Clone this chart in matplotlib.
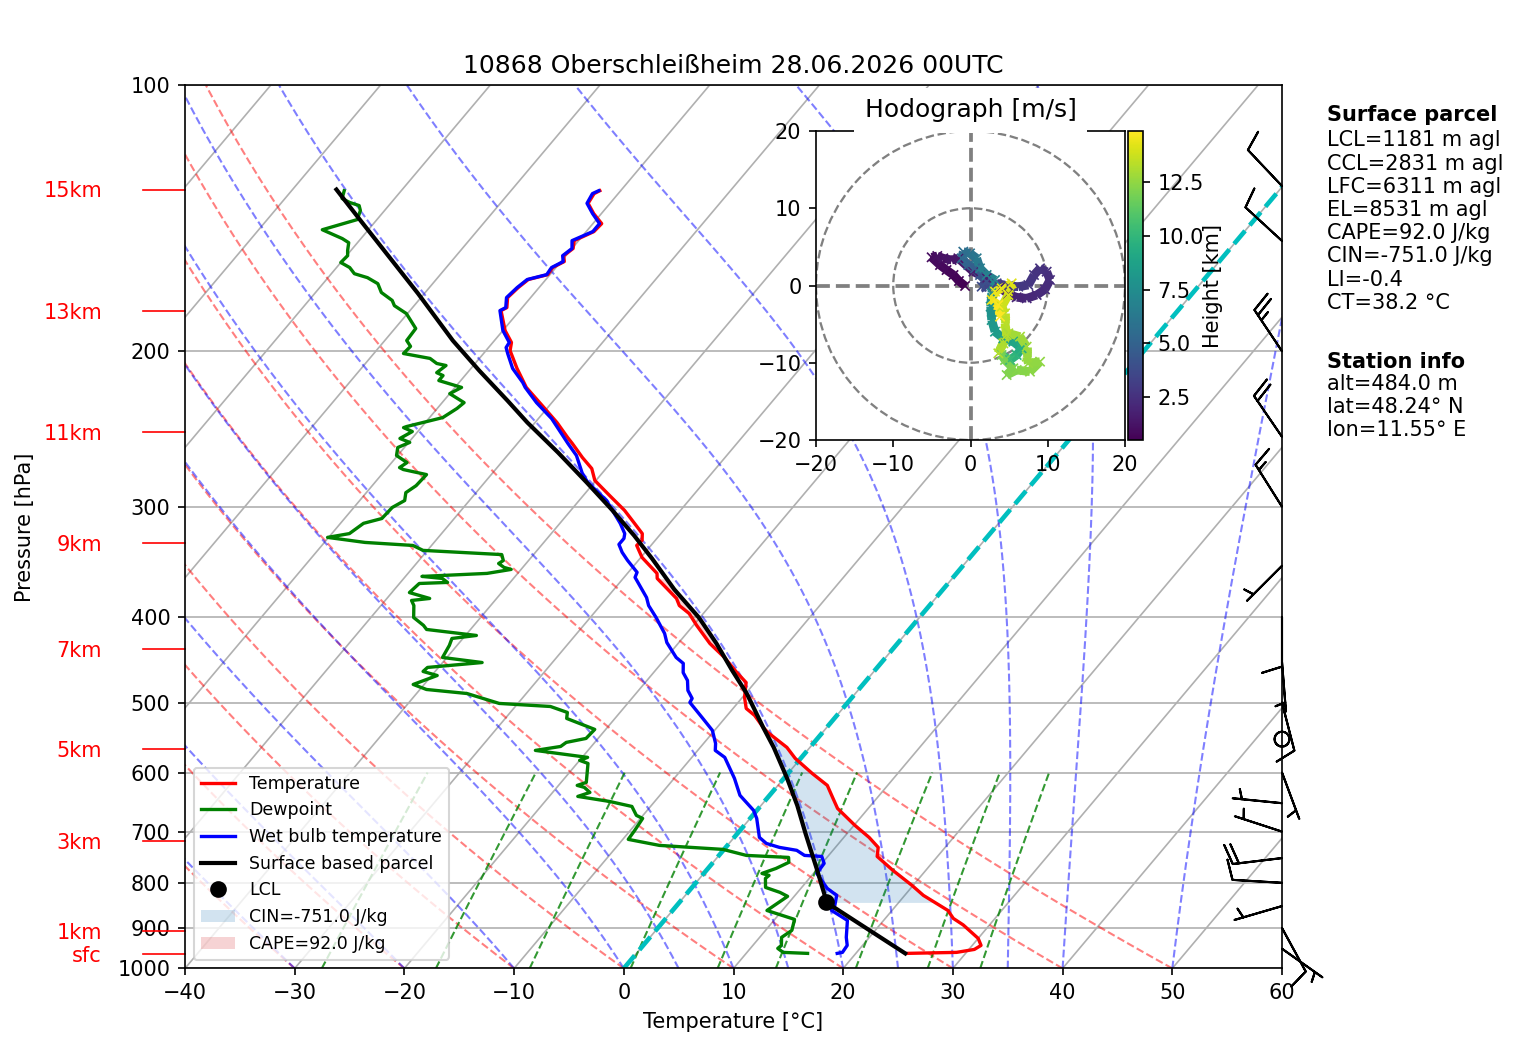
import numpy as np
import matplotlib
matplotlib.use("Agg")
import matplotlib.pyplot as plt
from matplotlib.collections import LineCollection
from matplotlib.patches import Circle

# sounding, top to bottom
temp_p = [131.6, 132.6, 136.0, 139.7, 143.4, 146.4, 149.9, 153.0, 155.9, 158.3, 160.8, 163.8, 165.9, 169.4, 173.9,
          178.5, 179.9, 189.5, 195.5, 199.7, 209.2, 219.8, 232.2, 240.9, 250.4, 254.4, 263.9, 271.6, 280.2, 291.4,
          302.9, 313.3, 321.8, 327.5, 331.9, 342.4, 357.0, 361.7, 381.1, 388.2, 396.3, 408.8, 428.6, 444.5, 462.4,
          474.5, 493.3, 507.7, 517.0, 533.4, 540.4, 562.0, 578.3, 601.4, 620.5, 640.2, 658.9, 688.8, 710.6, 729.4,
          746.8, 774.4, 805.4, 826.6, 859.8, 877.8, 892.8, 924.7, 941.8, 951.7, 959.1, 961.6]
temp_t = [-61.9, -62.2, -62.0, -60.7, -59.2, -59.3, -60.4, -59.9, -60.2, -59.7, -60.3, -60.2, -61.6, -61.9, -62.1,
          -61.4, -61.7, -59.8, -58.3, -57.8, -55.8, -53.5, -50.2, -48.0, -45.9, -45.0, -43.0, -41.3, -40.1, -37.6,
          -35.1, -33.2, -31.7, -31.2, -31.3, -29.9, -27.3, -26.9, -23.6, -22.8, -21.3, -19.7, -17.1, -14.7, -12.4,
          -10.8, -9.8, -8.8, -7.5, -5.8, -5.0, -2.1, -0.5, 2.2, 4.5, 5.9, 7.2, 10.1, 12.3, 13.9,
          14.5, 17.0, 19.9, 21.7, 25.1, 26.2, 27.6, 30.0, 30.8, 30.5, 29.1, 24.6]

dew_p = [131.6, 134.3, 135.7, 136.8, 138.6, 141.9, 145.7, 149.1, 150.7, 153.8, 155.9, 158.7, 160.8, 163.4, 165.1,
         167.7, 171.6, 175.2, 177.6, 181.3, 188.5, 194.5, 197.5, 201.2, 203.8, 206.5, 207.6, 211.5, 213.1, 215.9,
         219.8, 223.4, 228.7, 232.2, 237.8, 243.4, 244.1, 246.6, 251.1, 253.7, 257.1, 262.5, 267.4, 270.9, 272.3,
         275.9, 284.0, 289.2, 295.2, 300.6, 309.4, 313.3, 321.8, 325.0, 329.3, 331.9, 336.2, 339.9, 345.2, 347.9,
         351.5, 353.3, 357.0, 359.8, 361.7, 365.5, 366.5, 375.3, 381.1, 383.1, 388.2, 400.5, 408.8, 413.2, 419.7,
         423.0, 430.8, 444.5, 450.4, 456.2, 461.0, 465.9, 476.9, 483.2, 488.3, 501.1, 505.1, 513.0, 521.1, 536.2,
         549.0, 554.7, 560.6, 566.4, 576.8, 581.3, 586.0, 615.7, 620.5, 623.7, 632.0, 638.6, 647.1, 655.5, 671.0,
         676.3, 697.9, 714.3, 725.6, 733.2, 744.8, 748.7, 758.4, 770.5, 780.6, 784.6, 790.8, 809.6, 820.2, 828.7,
         859.8, 880.0, 905.6, 922.3, 941.8, 949.2, 959.1, 961.6]
dew_t = [-85.2, -84.8, -83.8, -82.7, -82.2, -81.8, -84.2, -81.7, -80.8, -80.3, -79.9, -80.0, -78.8, -77.9, -76.4,
         -75.0, -74.0, -72.4, -71.8, -70.1, -68.1, -68.0, -67.2, -67.3, -64.5, -63.5, -62.5, -62.8, -62.0, -62.0,
         -59.4, -60.0, -58.0, -58.2, -58.8, -61.4, -61.6, -60.5, -61.1, -59.9, -60.6, -60.1, -58.6, -58.9, -58.4,
         -55.9, -56.0, -56.4, -55.9, -56.5, -56.6, -57.9, -58.4, -60.1, -56.3, -51.7, -50.4, -42.9, -42.3, -42.5,
         -41.7, -40.9, -42.8, -48.5, -46.5, -45.7, -48.2, -48.4, -46.1, -47.6, -47.0, -46.1, -44.6, -44.0, -39.0,
         -41.0, -40.7, -40.4, -36.4, -41.0, -41.1, -39.5, -41.0, -39.4, -35.4, -31.7, -26.8, -24.8, -24.4, -21.0,
         -21.1, -22.6, -22.8, -24.8, -19.5, -20.0, -19.0, -17.7, -18.3, -17.5, -16.6, -17.4, -14.1, -11.7, -10.6,
         -9.8, -9.6, -9.5, -6.2, -0.1, 2.5, 6.5, 6.9, 6.2, 5.3, 6.1, 6.0, 6.7, 8.4, 9.4,
         8.6, 11.8, 12.4, 12.0, 12.6, 12.5, 13.3, 15.6]

wet_p = [131.6, 132.6, 136.0, 139.7, 143.4, 146.4, 149.9, 153.0, 155.9, 158.3, 160.8, 163.8, 165.9, 169.4, 173.9,
         178.5, 179.9, 189.5, 195.5, 198.1, 201.2, 209.2, 217.0, 219.8, 228.7, 238.4, 249.1, 254.4, 262.5, 275.0,
         281.6, 295.2, 313.3, 321.8, 325.9, 331.0, 337.9, 345.0, 356.0, 360.7, 380.2, 388.2, 400.5, 417.5, 427.5,
         444.5, 451.4, 462.4, 472.0, 484.4, 494.6, 499.8, 521.0, 537.6, 556.3, 566.4, 576.8, 609.3, 636.8, 662.3,
         676.3, 710.6, 721.9, 729.4, 735.0, 744.8, 746.8, 760.5, 780.6, 811.7, 826.6, 848.6, 859.8, 882.4, 922.3,
         941.8, 959.1, 961.6]
wet_t = [-62.0, -62.35, -62.1, -60.8, -59.4, -59.4, -60.6, -60.0, -60.3, -59.8, -60.4, -60.3, -61.7, -62.0, -62.2,
         -61.5, -61.8, -60.0, -58.5, -58.4, -57.8, -56.2, -54.2, -53.6, -51.4, -48.8, -46.5, -45.4, -43.7, -41.8,
         -40.6, -37.5, -34.5, -33.3, -33.0, -33.0, -32.1, -31.0, -29.2, -29.0, -26.4, -25.6, -24.0, -22.0, -21.1,
         -19.1, -18.0, -17.3, -16.3, -15.5, -14.5, -14.4, -12.0, -10.2, -8.9, -8.4, -7.0, -4.5, -2.7, -0.3,
         0.6, 2.3, 3.4, 4.9, 6.7, 7.8, 9.45, 10.2, 10.3, 12.4, 13.8, 14.4, 14.5, 16.7, 17.9,
         18.6, 18.7, 18.3]

parcel_p = [131.2, 142.3, 155.9, 172.0, 194.5, 210.3, 227.5, 240.9, 260.5, 281.6, 302.9, 323.4, 343.4, 372.2, 400.5,
            428.6, 459.8, 488.3, 533.4, 562.0, 609.3, 653.8, 703.3, 770.5, 822.3, 841.9, 961.6]
parcel_t = [-86.0, -81.4, -76.2, -70.6, -63.8, -59.1, -54.2, -50.7, -45.6, -40.7, -36.2, -32.3, -28.9, -24.5, -20.1,
            -16.5, -13.0, -9.9, -5.8, -3.3, 0.3, 3.3, 6.2, 9.9, 12.5, 13.4, 24.5]
lcl_p = 841.9
lcl_t = 13.4

# wind barbs, knots
barb_p = [130, 150, 200, 250, 300, 350, 400, 450, 500, 550, 600, 650, 700, 750, 800, 850, 900, 950]
barb_u = [6.9, 7.4, 13.9, 11.3, 8.0, 3.5, 0.0, -0.4, -2.5, 0.0, -1.75, 5.0, 4.75, 19.9, 10.0, 4.8, -4.8, -4.1]
barb_v = [-7.3, -6.8, -20.8, -16.5, -12.7, 3.5, 10.0, 5.0, 9.7, 0.0, 4.7, -0.5, -1.55, 2.4, -0.6, 1.4, 8.8, 2.9]

# height marks on the left
km_labels = ["15km", "13km", "11km", "9km", "7km", "5km", "3km", "1km", "sfc"]
km_p = [131.2, 180.3, 247.0, 330.0, 435.0, 565.0, 718.0, 908.0, 964.0]

# hodograph
hodo_u = [-0.7, -1.5, -2.2, -3.1, -3.95, -5.03, -4.3, -3.52, -2.44, -1.57,
          0.37, 2.09, 3.82, 4.9, 5.98, 7.27, 8.57, 9.64, 10.29, 9.86,
          9.0, 8.22, 7.49, 6.19, 4.9, 3.39,
          2.09, 1.45, 2.09, 1.23, 0.58, -0.28, -1.14, -0.93, -0.06, 0.8, 1.23, 2.09, 3.17, 2.74, 2.61, 2.74, 3.17,
          4.25, 5.54, 6.62, 5.98, 5.11,
          4.03, 4.47, 5.54, 4.68, 5.98, 7.7, 9.0, 7.49, 7.27, 7.27, 6.41, 4.9, 4.25, 3.6,
          4.68, 4.47, 4.47, 4.03, 4.9, 5.33, 4.03, 3.17, 2.74, 3.6, 3.82]
hodo_v = [-0.06, 0.58, 1.36, 2.0, 2.65, 3.65, 3.82, 3.52, 3.3, 3.52,
          1.79, 0.93, -0.24, -1.14, -1.53, -1.66, -1.23, -0.5, 0.71, 1.79,
          2.22, 1.36, 0.06, -0.15, -0.06, 0.28,
          -0.24, -0.15, 0.5, 1.36, 2.22, 2.65, 3.52, 4.38, 4.16, 3.52, 2.22, 1.36, 0.71, -1.01, -2.74, -4.47, -5.98,
          -6.84, -7.27, -8.13, -9.0, -9.64,
          -9.0, -9.64, -10.72, -11.59, -10.94, -11.15, -9.86, -10.08, -9.21, -7.92, -6.62, -6.19, -7.49, -8.78,
          -6.41, -4.9, -3.6, -2.74, -1.23, 0.28, -0.37, -0.8, -1.88, -2.52, -4.03]
hodo_z = [0.5, 0.6, 0.7, 0.8, 0.9, 1.0, 1.1, 1.2, 1.3, 1.4,
          1.6, 1.7, 1.8, 1.9, 2.0, 2.1, 2.2, 2.3, 2.4, 2.5,
          2.6, 2.7, 2.8, 2.9, 3.0, 3.2,
          3.5, 3.8, 4.1, 4.4, 4.8, 5.1, 5.4, 5.7, 6.0, 6.3, 6.6, 6.9, 7.2, 7.5, 7.8, 8.1, 8.4,
          8.7, 9.0, 9.4, 9.8, 10.2,
          11.9, 12.0, 12.1, 12.2, 12.3, 12.4, 12.5, 12.6, 12.7, 12.8, 12.9, 13.0, 13.1, 13.2,
          13.3, 13.4, 13.6, 13.8, 14.0, 14.2, 14.3, 14.5, 14.6, 14.8, 14.9]

parcel_text = ["LCL=1181 m agl", "CCL=2831 m agl", "LFC=6311 m agl", "EL=8531 m agl", "CAPE=92.0 J/kg",
               "CIN=-751.0 J/kg", "LI=-0.4", "CT=38.2 °C"]
station_text = ["alt=484.0 m", "lat=48.24° N", "lon=11.55° E"]

W, H = 1517, 1054
SKEW = 67.8  # degC per decade of pressure


def skew_x(t, p):
    return np.asarray(t, dtype=float) + SKEW * np.log10(1000.0 / np.asarray(p, dtype=float))


def px_rect(x0, y0, x1, y1):
    return [x0 / W, 1 - y1 / H, (x1 - x0) / W, (y1 - y0) / H]


def moist_adiabat(t0, p):
    # simple stepping of the saturated lapse rate
    t = np.zeros_like(p)
    t[0] = t0 + 273.15
    for i in range(1, len(p)):
        tc = t[i - 1] - 273.15
        es = 6.112 * np.exp(17.67 * tc / (tc + 243.5))
        rs = 0.622 * es / (p[i - 1] - es)
        dt = (287.0 * t[i - 1] + 2.5e6 * rs) / (1005.0 + 2.5e6 ** 2 * rs * 0.622 / (287.0 * t[i - 1] ** 2))
        t[i] = t[i - 1] + dt * np.log(p[i] / p[i - 1])
    return t - 273.15


fig = plt.figure(figsize=(W / 150, H / 150), dpi=150)
ax = fig.add_axes(px_rect(185, 85.4, 1282, 968.4))
ax.set_yscale("log")

# background lines
p_all = np.geomspace(1000, 100, 200)
for t0 in np.arange(-130, 70, 10):
    ax.plot(skew_x([t0, t0], [1000, 100]), [1000, 100], color="#b0b0b0", lw=0.8, zorder=1)
for p0 in range(100, 1100, 100):
    ax.axhline(p0, color="#b0b0b0", lw=0.8, zorder=1)
for t0 in np.arange(-40, 60, 10):
    ax.plot(skew_x((t0 + 273.15) * (p_all / 1000) ** 0.286 - 273.15, p_all), p_all,
            color="r", ls="--", lw=1, alpha=0.5, zorder=1)
for t0 in [-30, -20, -10, 0, 5, 10, 15, 20, 25, 30, 35, 40, 50]:
    ax.plot(skew_x(moist_adiabat(t0, p_all), p_all), p_all, color="b", ls="--", lw=1, alpha=0.5, zorder=1)
p_mix = np.geomspace(1000, 600, 30)
for w in [0.0004, 0.001, 0.002, 0.004, 0.007, 0.01, 0.016, 0.024, 0.032]:
    le = np.log(p_mix * w / (0.622 + w) / 6.112)
    ax.plot(skew_x(243.5 * le / (17.67 - le), p_mix), p_mix, color="g", ls="--", lw=1, alpha=0.8, zorder=1)
ax.plot(skew_x([0, 0], [1000, 100]), [1000, 100], color="c", ls="--", lw=2.2, zorder=1.5)

# cin / cape shading
temp_x = skew_x(temp_t, temp_p)
parcel_x = skew_x(parcel_t, parcel_p)
p_cin = np.geomspace(540, lcl_p, 250)
cin_t = np.interp(np.log(p_cin), np.log(temp_p), temp_x)
cin_par = np.interp(np.log(p_cin), np.log(parcel_p), parcel_x)
ax.fill_betweenx(p_cin, cin_par, cin_t, where=cin_t > cin_par, color="tab:blue", alpha=0.2, lw=0, zorder=2)
p_cape = np.geomspace(362, 469, 120)
cape_t = np.interp(np.log(p_cape), np.log(temp_p), temp_x)
cape_par = np.interp(np.log(p_cape), np.log(parcel_p), parcel_x)
ax.fill_betweenx(p_cape, cape_t, cape_par, where=cape_par > cape_t, color="tab:red", alpha=0.2, lw=0, zorder=2)

# profiles
ax.plot(temp_x, temp_p, color="r", lw=1.6, label="Temperature", zorder=3)
ax.plot(skew_x(dew_t, dew_p), dew_p, color="g", lw=1.6, label="Dewpoint", zorder=3)
ax.plot(skew_x(wet_t, wet_p), wet_p, color="b", lw=1.6, label="Wet bulb temperature", zorder=3)
ax.plot(parcel_x, parcel_p, color="k", lw=2, label="Surface based parcel", zorder=4)
ax.plot(skew_x([lcl_t], [lcl_p]), [lcl_p], "o", color="k", ms=7, label="LCL", zorder=5)

# dummy handles keep the legend order
ax.fill_between([], [], [], color="tab:blue", alpha=0.2, lw=0, label="CIN=-751.0 J/kg")
ax.fill_between([], [], [], color="tab:red", alpha=0.2, lw=0, label="CAPE=92.0 J/kg")

ax.barbs(np.ones(len(barb_p)), barb_p, barb_u, barb_v, length=6.9, transform=ax.get_yaxis_transform(),
         clip_on=False, zorder=6)

ax.set_xlim(-40, 60)
ax.set_ylim(1000, 100)
ax.set_yticks(list(range(100, 1100, 100)))
ax.set_yticklabels([str(v) for v in range(100, 1100, 100)])
ax.yaxis.set_minor_locator(matplotlib.ticker.NullLocator())
ax.set_xticks(list(range(-40, 70, 10)))
ax.set_xlabel("Temperature [°C]", labelpad=4.4)
ax.set_ylabel("Pressure [hPa]")
ax.yaxis.set_label_coords(-0.1368, 0.5)
ax.set_title("10868 Oberschleißheim 28.06.2026 00UTC", fontsize=12, pad=6)
ax.legend(loc="lower left", fontsize="small")

for lab, p0 in zip(km_labels, km_p):
    ax.plot([-0.038, 0], [p0, p0], color="r", lw=0.8, transform=ax.get_yaxis_transform(), clip_on=False)
    ax.annotate(lab, xy=(-0.0766, p0), xycoords=ax.get_yaxis_transform(), xytext=(0.5, -0.8),
                textcoords="offset points", color="r", ha="right", va="center")

# hodograph inset
hod = fig.add_axes(px_rect(816, 131, 1125, 440))
hod.set_xlim(-20, 20)
hod.set_ylim(-20, 20)
for r in [10, 20]:
    hod.add_patch(Circle((0, 0), r, fill=False, ec="grey", ls="--", lw=1.1, zorder=1))
hod.axhline(0, color="grey", ls="--", lw=1.8, zorder=1)
hod.axvline(0, color="grey", ls="--", lw=1.8, zorder=1)
pts = np.column_stack([hodo_u, hodo_v])
segs = np.stack([pts[:-1], pts[1:]], axis=1)
lc = LineCollection(segs, cmap="viridis", lw=4.2, zorder=2)
lc.set_array(np.array(hodo_z[:-1]))
lc.set_clim(min(hodo_z), max(hodo_z))
hod.add_collection(lc)
sc = hod.scatter(hodo_u, hodo_v, c=hodo_z, cmap="viridis", marker="x", s=20, lw=0.8, zorder=3)
hod.set_xticks([-20, -10, 0, 10, 20])
hod.set_yticks([-20, -10, 0, 10, 20])
hod.set_title("Hodograph [m/s]", fontsize=12, pad=6.6, bbox=dict(facecolor="white", edgecolor="none", pad=5.2))

cax = fig.add_axes(px_rect(1128, 131, 1143, 440))
cb = fig.colorbar(sc, cax=cax)
cb.set_ticks([2.5, 5.0, 7.5, 10.0, 12.5])
cb.set_label("Height [km]")
cax.yaxis.set_label_coords(5.0, 0.5)

# text column on the right
fig.text(1327 / W, 1 - 115 / H, "Surface parcel", fontweight="bold", va="center")
for i, s in enumerate(parcel_text):
    fig.text(1327 / W, 1 - (140.5 + i * 23.2) / H, s, va="center")
fig.text(1327 / W, 1 - 361.5 / H, "Station info", fontweight="bold", va="center")
for i, s in enumerate(station_text):
    fig.text(1327 / W, 1 - (384 + i * 23) / H, s, va="center")

fig.savefig("out.png", dpi=150)
